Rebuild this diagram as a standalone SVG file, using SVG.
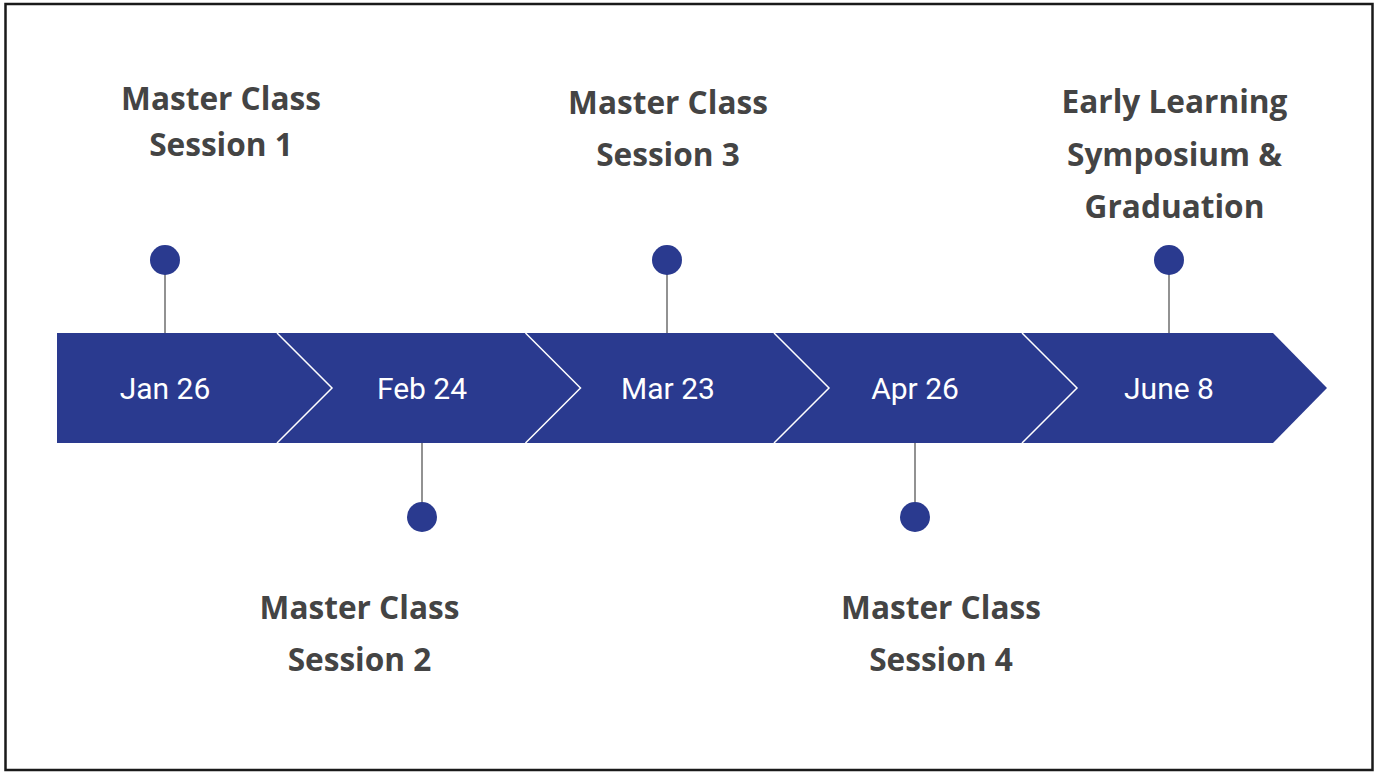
<svg xmlns="http://www.w3.org/2000/svg" width="1377" height="772" viewBox="0 0 1377 772">
<style>
.band{fill:#2a3a8f}
.sep{fill:none;stroke:#ffffff;stroke-width:1.5}
.date{font-family:Roboto,"Liberation Sans",sans-serif;font-size:30px;fill:#ffffff;text-anchor:middle}
.title{font-family:"Open Sans","Liberation Sans",sans-serif;font-weight:bold;font-size:31.6px;fill:#444444;text-anchor:middle}
.stem{stroke:#777777;stroke-width:1.6}
.dot{fill:#2a3a8f}
</style>
<rect x="5.5" y="4" width="1367" height="766" fill="#ffffff" stroke="#1a1a1a" stroke-width="2.5"/>
<g id="band">
<polygon class="band" points="57,333 1273,333 1327,388 1273,443 57,443"/>
<polyline class="sep" points="277,333 332,388 277,443"/>
<polyline class="sep" points="525.5,333 580.5,388 525.5,443"/>
<polyline class="sep" points="774,333 829,388 774,443"/>
<polyline class="sep" points="1022,333 1077,388 1022,443"/>
</g>
<g id="connectors">
<line class="stem" x1="165" y1="260" x2="165" y2="333"/>
<line class="stem" x1="422" y1="443" x2="422" y2="517"/>
<line class="stem" x1="667" y1="260" x2="667" y2="333"/>
<line class="stem" x1="915" y1="443" x2="915" y2="517"/>
<line class="stem" x1="1169" y1="260" x2="1169" y2="333"/>
</g>
<g id="node-jan26">
<circle class="dot" cx="165" cy="260" r="15"/>
<text class="date" x="165" y="399">Jan 26</text>
<text class="title" x="221" y="110">Master Class</text>
<text class="title" x="221" y="156">Session 1</text>
</g>
<g id="node-feb24">
<circle class="dot" cx="422" cy="517" r="15"/>
<text class="date" x="422" y="399">Feb 24</text>
<text class="title" x="359.5" y="619">Master Class</text>
<text class="title" x="359.5" y="671">Session 2</text>
</g>
<g id="node-mar23">
<circle class="dot" cx="667" cy="260" r="15"/>
<text class="date" x="668" y="399">Mar 23</text>
<text class="title" x="668" y="114">Master Class</text>
<text class="title" x="668" y="166">Session 3</text>
</g>
<g id="node-apr26">
<circle class="dot" cx="915" cy="517" r="15"/>
<text class="date" x="915" y="399">Apr 26</text>
<text class="title" x="941" y="619">Master Class</text>
<text class="title" x="941" y="671">Session 4</text>
</g>
<g id="node-june8">
<circle class="dot" cx="1169" cy="260" r="15"/>
<text class="date" x="1169" y="399">June 8</text>
<text class="title" x="1174.5" y="113">Early Learning</text>
<text class="title" x="1174.5" y="166">Symposium &amp;</text>
<text class="title" x="1174.5" y="218">Graduation</text>
</g>
</svg>
